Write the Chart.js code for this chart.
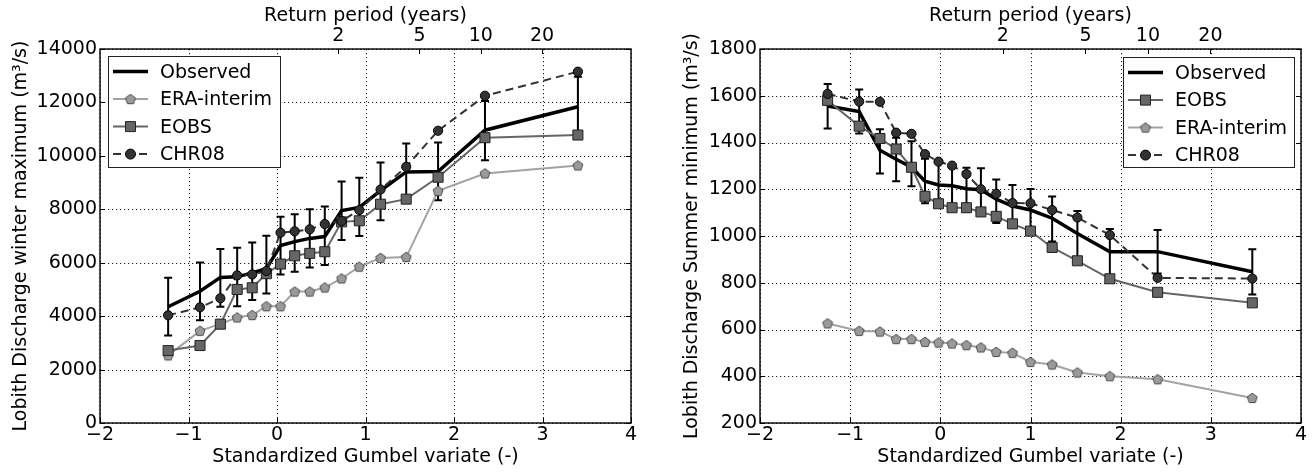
<!DOCTYPE html>
<html><head><meta charset="utf-8">
<script src="https://cdn.jsdelivr.net/npm/chart.js@4.4.1/dist/chart.umd.min.js"></script>
<style>
html,body{margin:0;padding:0;background:#fff;width:1316px;height:472px;overflow:hidden}
.p{position:absolute;top:0;width:658px;height:472px}
</style></head><body>
<div class="p" style="left:0"><canvas id="c1" width="658" height="472"></canvas></div>
<div class="p" style="left:658px"><canvas id="c2" width="658" height="472"></canvas></div>
<script>
// ---------- data ----------
const returnPeriods = [2, 5, 10, 20];

// Left: winter maximum
const leftGumbel   = [-1.23, -0.87, -0.64, -0.45, -0.28, -0.12, 0.04, 0.20, 0.37, 0.54, 0.73, 0.93, 1.17, 1.46, 1.82, 2.35, 3.40];
const leftObserved = [4350, 4930, 5450, 5470, 5620, 5780, 6640, 6790, 6910, 6980, 7950, 8070, 8700, 9400, 9410, 10960, 11840];
const leftObsHigh  = [5440, 6010, 6510, 6560, 6760, 7010, 7725, 7810, 8000, 8100, 9040, 9180, 9750, 10460, 10500, 12050, 12960];
const leftObsLow   = [3280, 3850, 4350, 4375, 4600, 4850, 5560, 5660, 5825, 5910, 6850, 7000, 7590, 8380, 8340, 9840, 10840];
const leftERA      = [2530, 3450, 3710, 3950, 4040, 4370, 4370, 4920, 4920, 5070, 5410, 5850, 6180, 6210, 8690, 9340, 9640];
const leftEOBS     = [2710, 2900, 3700, 5000, 5060, 5590, 5950, 6260, 6350, 6410, 7530, 7570, 8190, 8380, 9200, 10680, 10780];
const leftCHR08    = [4030, 4330, 4670, 5525, 5560, 5690, 7125, 7175, 7250, 7450, 7560, 7970, 8740, 9590, 10940, 12250, 13150];

// Right: summer minimum
const rightGumbel   = [-1.25, -0.90, -0.67, -0.49, -0.32, -0.17, -0.02, 0.13, 0.29, 0.45, 0.62, 0.80, 1.00, 1.24, 1.52, 1.88, 2.41, 3.46];
const rightObserved = [1556, 1532, 1367, 1328, 1294, 1234, 1218, 1215, 1202, 1198, 1158, 1128, 1111, 1076, 1011, 933, 933, 847];
const rightObsHigh  = [1650, 1627, 1457, 1420, 1405, 1330, 1315, 1300, 1292, 1290, 1242, 1218, 1201, 1169, 1107, 1030, 1026, 943];
const rightObsLow   = [1460, 1439, 1267, 1234, 1213, 1140, 1125, 1112, 1104, 1095, 1056, 1036, 1033, 976, 897, 811, 840, 750];
const rightEOBS     = [1580, 1470, 1417, 1372, 1294, 1170, 1138, 1121, 1121, 1103, 1084, 1052, 1021, 951, 894, 817, 759, 714];
const rightERA      = [626, 594, 591, 559, 559, 547, 544, 540, 533, 523, 504, 500, 461, 450, 416, 400, 387, 307];
const rightCHR08    = [1608, 1575, 1574, 1442, 1437, 1350, 1318, 1301, 1265, 1200, 1181, 1141, 1140, 1111, 1079, 1004, 821, 818];

// ---------- styles ----------
const FONT = "'DejaVu Sans', 'Liberation Sans', sans-serif";
const FS = 19;
const ST = {
  obs:  {color:'#000', width:3.5, dash:[], marker:null},
  era:  {color:'#a3a3a3', width:2, dash:[], marker:'pent', fill:'#9a9a9a', edge:'#4a4a4a'},
  eobs: {color:'#666', width:2, dash:[], marker:'rect', fill:'#666', edge:'#222'},
  chr:  {color:'#333', width:2, dash:[8,5], marker:'circ', fill:'#333', edge:'#000'}
};

function pentPath(ctx, x, y, r) {
  ctx.beginPath();
  for (let k = 0; k < 5; k++) {
    const a = -Math.PI/2 + k*2*Math.PI/5;
    const px = x + r*Math.cos(a), py = y + r*Math.sin(a);
    k ? ctx.lineTo(px, py) : ctx.moveTo(px, py);
  }
  ctx.closePath();
}
const pentImg = document.createElement('canvas');
pentImg.width = 14; pentImg.height = 14;
(function(){ const c = pentImg.getContext('2d'); pentPath(c, 7, 7.4, 5.2); c.fillStyle = ST.era.fill; c.fill(); c.lineWidth = 1; c.strokeStyle = ST.era.edge; c.stroke(); })();

function drawMarker(ctx, s, x, y) {
  if (!s.marker) return;
  ctx.save(); ctx.setLineDash([]); ctx.lineWidth = 1; ctx.fillStyle = s.fill; ctx.strokeStyle = s.edge;
  if (s.marker === 'pent') { ctx.drawImage(pentImg, x - 7, y - 7); }
  else if (s.marker === 'rect') { ctx.beginPath(); ctx.rect(x-5, y-5, 10, 10); ctx.fill(); ctx.stroke(); }
  else { ctx.beginPath(); ctx.arc(x, y, 5, 0, 2*Math.PI); ctx.fill(); ctx.stroke(); }
  ctx.restore();
}

function pts(xs, ys) { return xs.map((x, i) => ({x: x, y: ys[i]})); }

function ds(label, xs, ys, s, order) {
  const d = {label, data: pts(xs, ys), borderColor: s.color, borderWidth: s.width, borderDash: s.dash,
    tension: 0, order: order, fill: false, backgroundColor: s.color};
  if (!s.marker) { d.pointRadius = 0; }
  else if (s.marker === 'pent') { d.pointStyle = pentImg; d.pointRadius = 5; }
  else if (s.marker === 'rect') { d.pointStyle = 'rect'; d.pointRadius = 7.1; d.pointBackgroundColor = s.fill; d.pointBorderColor = s.edge; d.pointBorderWidth = 1; }
  else { d.pointStyle = 'circle'; d.pointRadius = 4.6; d.pointBackgroundColor = s.fill; d.pointBorderColor = s.edge; d.pointBorderWidth = 1; }
  return d;
}

const decor = {
  id: 'decor',
  beforeDatasetsDraw(chart, args, o) {
    const {ctx, chartArea: a} = chart;
    const xs = chart.scales.x, ys = chart.scales.y;
    ctx.save();
    // dotted grid
    ctx.strokeStyle = '#1a1a1a'; ctx.lineWidth = 1; ctx.setLineDash([1.2, 2.8]);
    xs.ticks.forEach(t => { const px = Math.round(xs.getPixelForValue(t.value)) + 0.5;
      ctx.beginPath(); ctx.moveTo(px, a.top); ctx.lineTo(px, a.bottom); ctx.stroke(); });
    ys.ticks.forEach(t => { const py = Math.round(ys.getPixelForValue(t.value)) + 0.5;
      ctx.beginPath(); ctx.moveTo(a.left, py); ctx.lineTo(a.right, py); ctx.stroke(); });
    ctx.setLineDash([]);
    // error bars
    ctx.strokeStyle = '#000'; ctx.lineWidth = 2;
    o.errX.forEach((xv, i) => {
      const px = xs.getPixelForValue(xv), ph = ys.getPixelForValue(o.errHigh[i]), pl = ys.getPixelForValue(o.errLow[i]);
      ctx.beginPath(); ctx.moveTo(px, ph); ctx.lineTo(px, pl);
      ctx.moveTo(px-4, ph); ctx.lineTo(px+4, ph); ctx.moveTo(px-4, pl); ctx.lineTo(px+4, pl); ctx.stroke();
    });
    ctx.restore();
  },
  afterDraw(chart, args, o) {
    const {ctx, chartArea: a} = chart;
    const xs = chart.scales.x, ys = chart.scales.y, x2 = chart.scales.x2;
    ctx.save();
    // inside ticks
    ctx.strokeStyle = '#000'; ctx.lineWidth = 1;
    xs.ticks.forEach(t => { const px = Math.round(xs.getPixelForValue(t.value)) + 0.5;
      ctx.beginPath(); ctx.moveTo(px, a.bottom); ctx.lineTo(px, a.bottom - 5); ctx.stroke(); });
    x2.ticks.forEach(t => { const px = Math.round(x2.getPixelForValue(t.value)) + 0.5;
      ctx.beginPath(); ctx.moveTo(px, a.top); ctx.lineTo(px, a.top + 5); ctx.stroke(); });
    ys.ticks.forEach(t => { const py = Math.round(ys.getPixelForValue(t.value)) + 0.5;
      ctx.beginPath(); ctx.moveTo(a.left, py); ctx.lineTo(a.left + 5, py);
      ctx.moveTo(a.right, py); ctx.lineTo(a.right - 5, py); ctx.stroke(); });
    // frame
    ctx.lineWidth = 1.4;
    ctx.strokeRect(a.left, a.top, a.right - a.left, a.bottom - a.top);
    // legend
    const L = o.legend;
    const bx = L.right ? a.right - L.dx - L.w : a.left + L.dx, by = a.top + L.dy;
    ctx.fillStyle = '#fff'; ctx.fillRect(bx, by, L.w, L.h);
    ctx.lineWidth = 1; ctx.strokeStyle = '#222'; ctx.strokeRect(Math.round(bx)+0.5, Math.round(by)+0.5, L.w, L.h);
    ctx.font = FS + 'px ' + FONT; ctx.textBaseline = 'middle'; ctx.textAlign = 'left'; ctx.fillStyle = '#000';
    L.items.forEach((it, k) => {
      const y = by + 15.6 + k*27.5, s = it.style;
      ctx.save(); ctx.strokeStyle = s.color; ctx.lineWidth = s.width; ctx.setLineDash(s.dash);
      ctx.beginPath(); ctx.moveTo(bx + 5, y); ctx.lineTo(bx + 40, y); ctx.stroke(); ctx.restore();
      drawMarker(ctx, s, bx + 22.5, y);
      ctx.fillStyle = '#000'; ctx.fillText(it.label, bx + 52, y + 1);
    });
    ctx.restore();
  }
};

function makeChart(id, cfg) {
  const tickFont = {family: FONT, size: FS};
  return new Chart(document.getElementById(id), {
    type: 'line',
    data: {datasets: cfg.datasets},
    plugins: [decor],
    options: {
      responsive: false, animation: false, devicePixelRatio: 1, events: [],
      layout: {padding: {left: cfg.padLeft, right: cfg.padRight, top: 0, bottom: 0}},
      plugins: {legend: {display: false}, tooltip: {enabled: false},
        decor: {errX: cfg.errX, errHigh: cfg.errHigh, errLow: cfg.errLow, legend: cfg.legend}},
      scales: {
        x: {type: 'linear', position: 'bottom', min: -2, max: 4,
          grid: {display: false, drawTicks: false}, border: {display: false},
          ticks: {stepSize: 1, color: '#000', font: tickFont, padding: 1, maxRotation: 0,
            callback: v => v < 0 ? '\u2212' + Math.abs(v) : String(v)},
          title: {display: true, text: 'Standardized Gumbel variate (-)', color: '#000', font: tickFont, padding: {top: 0, bottom: 4}},
          afterFit: s => { s.height = 49; }},
        x2: {type: 'linear', axis: 'x', position: 'top', min: -2, max: 4,
          grid: {display: false, drawTicks: false}, border: {display: false},
          afterBuildTicks: s => { s.ticks = returnPeriods.map(T => ({value: Math.log(T)})); },
          ticks: {autoSkip: false, color: '#000', font: tickFont, padding: 2, maxRotation: 0,
            callback: (v, i) => String(returnPeriods[i])},
          title: {display: true, text: 'Return period (years)', color: '#000', font: tickFont, padding: {top: 5, bottom: 0}},
          afterFit: s => { s.height = 49; }},
        y: {type: 'linear', position: 'left', min: cfg.yMin, max: cfg.yMax,
          grid: {display: false, drawTicks: false}, border: {display: false},
          ticks: {stepSize: cfg.yStep, color: '#000', font: tickFont, padding: 3, callback: v => String(v)},
          title: {display: true, text: cfg.yTitle, color: '#000', font: tickFont, padding: {top: 10, bottom: 0}},
          afterFit: s => { s.width = cfg.yWidth; }}
      }
    }
  });
}

makeChart('c1', {
  padLeft: 0, padRight: 27, yWidth: 100, yMin: 0, yMax: 14000, yStep: 2000,
  yTitle: 'Lobith Discharge winter maximum (m\u00b3/s)',
  datasets: [
    ds('Observed', leftGumbel, leftObserved, ST.obs, 4),
    ds('ERA-interim', leftGumbel, leftERA, ST.era, 3),
    ds('EOBS', leftGumbel, leftEOBS, ST.eobs, 2),
    ds('CHR08', leftGumbel, leftCHR08, ST.chr, 1)
  ],
  errX: leftGumbel, errHigh: leftObsHigh, errLow: leftObsLow,
  legend: {right: false, dx: 8, dy: 7, w: 172, h: 111, items: [
    {label: 'Observed', style: ST.obs}, {label: 'ERA-interim', style: ST.era},
    {label: 'EOBS', style: ST.eobs}, {label: 'CHR08', style: ST.chr}]}
});

makeChart('c2', {
  padLeft: 13, padRight: 15, yWidth: 89, yMin: 200, yMax: 1800, yStep: 200,
  yTitle: 'Lobith Discharge Summer minimum (m\u00b3/s)',
  datasets: [
    ds('Observed', rightGumbel, rightObserved, ST.obs, 4),
    ds('EOBS', rightGumbel, rightEOBS, ST.eobs, 3),
    ds('ERA-interim', rightGumbel, rightERA, ST.era, 2),
    ds('CHR08', rightGumbel, rightCHR08, ST.chr, 1)
  ],
  errX: rightGumbel, errHigh: rightObsHigh, errLow: rightObsLow,
  legend: {right: true, dx: 7, dy: 8, w: 171, h: 110, items: [
    {label: 'Observed', style: ST.obs}, {label: 'EOBS', style: ST.eobs},
    {label: 'ERA-interim', style: ST.era}, {label: 'CHR08', style: ST.chr}]}
});
</script>
</body></html>
